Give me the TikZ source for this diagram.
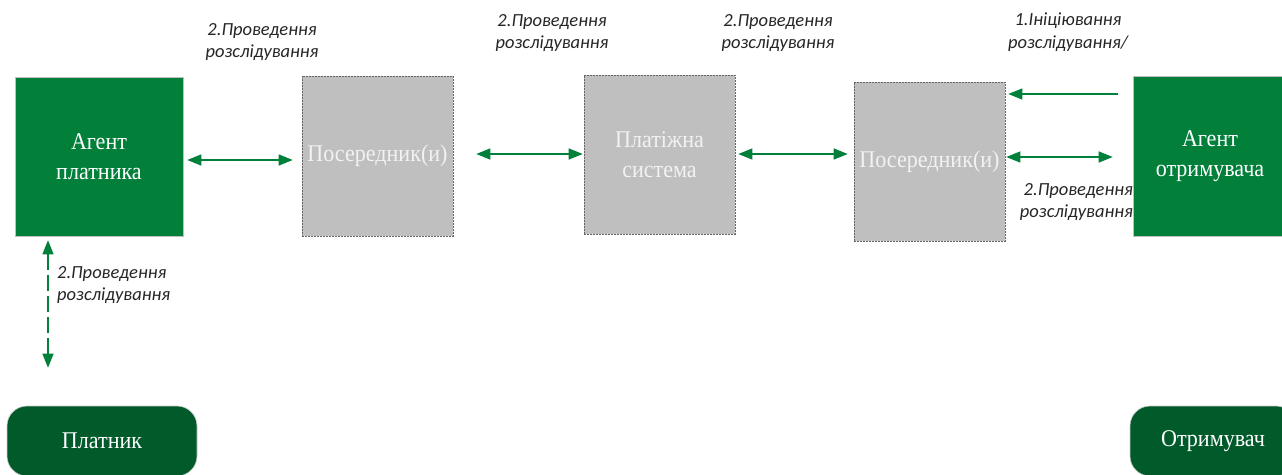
\documentclass[tikz,border=0pt]{standalone}
\usepackage{fontspec}
\setmainfont{Liberation Serif}
\newfontfamily\boxfont[FakeStretch=0.92]{Liberation Serif}
\newfontfamily\labfont{Carlito}
\usetikzlibrary{arrows.meta}
\definecolor{boxgreen}{RGB}{2,128,58}
\definecolor{darkgreen}{RGB}{0,90,42}
\definecolor{boxgray}{RGB}{191,191,191}
\definecolor{arrgreen}{RGB}{0,128,58}
\tikzset{
  greenbox/.style={fill=boxgreen,draw=gray!50,line width=0.6pt,inner sep=0pt,text=white,align=center,font=\boxfont\fontsize{24}{30}\selectfont},
  graybox/.style={fill=boxgray,draw=gray!80!black,dashed,dash pattern=on 2pt off 1pt,line width=0.6pt,inner sep=0pt,text=white!95!black,align=center,font=\boxfont\fontsize{24}{30}\selectfont},
  roundbox/.style={fill=darkgreen,draw=gray!40,line width=0.6pt,rounded corners=20pt,inner sep=0pt,text=white,font=\boxfont\fontsize{24}{26}\selectfont},
  biarrow/.style={arrgreen,line width=1.3pt,{Triangle[length=14pt,width=11pt]}-{Triangle[length=14pt,width=11pt]}},
  onearrow/.style={arrgreen,line width=1.3pt,-{Triangle[length=14pt,width=11pt]}},
  lab/.style={font=\labfont\itshape\fontsize{18.5}{22.5}\selectfont,inner sep=0pt,text=black!85}
}
\begin{document}
\begin{tikzpicture}[x=1pt,y=-1pt]
\useasboundingbox (0,0) rectangle (1282,474);
\clip (0,0) rectangle (1282,474);
\fill[white] (0,0) rectangle (1282,474);
% boxes
\node[greenbox,minimum width=168pt,minimum height=159pt] (ap) at (99,156.5) {Агент\\платника};
\node[graybox,minimum width=151pt,minimum height=160pt] (m1) at (377.5,156) {Посередник(и)};
\node[graybox,minimum width=151pt,minimum height=159pt] (ps) at (659.5,154.5) {Платіжна\\система};
\node[graybox,minimum width=151pt,minimum height=159pt] (m2) at (929.5,161.5) {Посередник(и)};
\node[greenbox,minimum width=154pt,minimum height=160pt] (ar) at (1210,156) {Агент\\отримувача};
\node[roundbox,minimum width=190pt,minimum height=70pt] (pl) at (102,441) {Платник};
\node[roundbox,minimum width=166pt,minimum height=70pt] (or) at (1213,441) {Отримувач};
% arrows
\draw[biarrow] ([xshift=4pt,yshift=-3.5pt]ap.east) -- ([xshift=-9pt,yshift=-4pt]m1.west);
\draw[biarrow] ([xshift=23pt,yshift=2pt]m1.east) -- ([xshift=-1pt,yshift=0.5pt]ps.west);
\draw[biarrow] ([xshift=3pt,yshift=0.5pt]ps.east) -- ([xshift=-6pt,yshift=7.5pt]m2.west);
\draw[onearrow] ([xshift=-15pt,yshift=62pt]ar.west) -- ([xshift=3pt,yshift=67.5pt]m2.east);
\draw[biarrow] ([xshift=1pt,yshift=4.5pt]m2.east) -- ([xshift=-20pt,yshift=-1pt]ar.west);
\draw[biarrow,dash pattern=on 16pt off 5pt] ([xshift=-51pt,yshift=-4pt]ap.south) -- ([xshift=-54pt,yshift=38pt]pl.north);
% labels
\node[lab,align=center] (l1) at (262,42) {2.Проведення\\розслідування};
\node[lab,align=center] (l2) at (552,33) {2.Проведення\\розслідування};
\node[lab,align=center] (l3) at (778,33) {2.Проведення\\розслідування};
\node[lab,align=center] (l4) at (1068,32) {1.Ініціювання\\розслідування/};
\node[lab,align=right,anchor=east] (l5) at (1133,202) {2.Проведення\\розслідування};
\node[lab,align=left,anchor=west] (l6) at (57,285) {2.Проведення\\розслідування};
\end{tikzpicture}
\end{document}
